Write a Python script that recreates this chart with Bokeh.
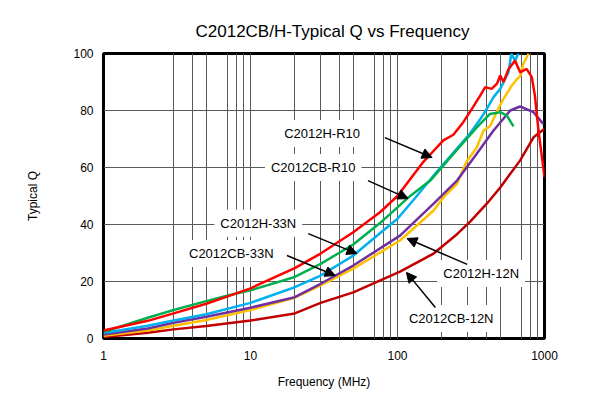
from bokeh.plotting import figure
from bokeh.models import Range1d, FixedTicker, Label, Arrow, NormalHead
from bokeh.embed import file_html
from bokeh.resources import INLINE

# ---- data (frequency in MHz, Q) ----
f_h_r10 = [1, 2, 3, 5, 7, 10, 20, 30, 50, 76, 100, 150, 170, 205, 240, 281, 320, 366, 395, 437, 475, 500, 526, 570, 630, 683, 755, 820, 860, 910, 1000]
q_h_r10 = [2.8, 6.2, 8.8, 12.2, 14.8, 17.6, 24.7, 29.8, 37.3, 44.3, 50, 62, 65, 69.5, 71.5, 76, 80.5, 85.3, 88.2, 87.6, 89.4, 92.3, 90, 94.6, 97.5, 93.4, 94.6, 91.7, 85.3, 73, 56.6]

f_cb_r10 = [1, 2, 3, 5, 7, 10, 20, 30, 50, 76, 100, 119, 167, 240, 346, 426, 500, 555, 615]
q_cb_r10 = [2.3, 7.3, 10, 13.1, 15.1, 16.9, 21.6, 26.2, 33, 40.5, 46, 49.6, 55.4, 64.8, 74.1, 78.8, 79.4, 78.2, 74.4]

f_h_33n = [1, 2, 3, 5, 10, 20, 30, 50, 80, 100, 128, 185, 267, 312, 366, 405, 450, 500, 569, 595, 630, 665]
q_h_33n = [1.9, 4.5, 6.3, 8.5, 12.5, 18, 22.1, 29.1, 37.9, 42, 48.5, 58.5, 68, 72, 77, 80.6, 84.7, 87.6, 93.4, 100, 97.5, 100]

f_h_12n = [1, 2, 3, 5, 10, 20, 30, 50, 104, 176, 254, 346, 450, 585, 683, 842, 980]
q_h_12n = [1.4, 3.5, 5.5, 7.6, 10.8, 14.5, 19.2, 25.6, 36.1, 47.3, 55.4, 64.8, 73, 80, 81.4, 79.4, 75.3]

f_cb_33n = [1, 2, 3, 5, 10, 20, 30, 50, 104, 176, 206, 254, 295, 346, 385, 426, 500, 525, 595, 648, 683, 718, 779]
q_cb_33n = [1.0, 2.8, 4.5, 6.5, 10, 14.3, 18.6, 24.5, 34.4, 44.9, 49.6, 54.3, 62, 67, 73, 74.5, 82, 84, 88.5, 91, 92, 96.4, 100]

f_cb_12n = [1, 2, 3, 5, 10, 20, 30, 50, 70, 104, 176, 254, 312, 405, 500, 683, 842, 1000]
q_cb_12n = [0.5, 2.0, 3.2, 4.4, 6.3, 8.8, 12.5, 16.2, 19.5, 23.5, 29.8, 36.6, 41, 47.3, 53, 62.5, 70.6, 73.6]

series = [
    (f_cb_12n, q_cb_12n, "#C00000"),
    (f_cb_33n, q_cb_33n, "#FFC000"),
    (f_h_12n, q_h_12n, "#7030A0"),
    (f_h_33n, q_h_33n, "#00B0F0"),
    (f_cb_r10, q_cb_r10, "#00B050"),
    (f_h_r10, q_h_r10, "#FF0000"),
]

x_ticks = [1, 10, 100, 1000]
x_grid = [3, 4, 5, 7, 8, 9, 10, 20, 30, 40, 50, 70, 80, 90, 100, 200, 300, 400, 500, 700, 800, 900]
y_ticks = [0, 20, 40, 60, 80, 100]

# annotations: (text, text_f, text_q, arrow_f0, arrow_q0, arrow_f1, arrow_q1)
notes = [
    ("C2012H-R10", 30.7, 71.9, 82, 70.5, 172, 63.5),
    ("C2012CB-R10", 26.7, 60.0, 63, 55.4, 118, 49.1),
    ("C2012H-33N", 11.3, 40.4, 24.7, 36.8, 53, 29.8),
    ("C2012CB-33N", 7.4, 29.8, 17.7, 29.1, 37.7, 22.1),
    ("C2012H-12N", 371, 22.8, 298, 26.0, 116, 35.1),
    ("C2012CB-12N", 232, 7.0, 181, 10.9, 115, 23.2),
]

FONT = "Liberation Sans"

p = figure(width=581, height=391, x_axis_type="log",
           x_range=Range1d(1, 1000), y_range=Range1d(0, 100),
           output_backend="svg", toolbar_location=None,
           min_border_left=103, min_border_right=37,
           min_border_top=53, min_border_bottom=53,
           title="C2012CB/H-Typical Q vs Frequency")

p.title.text_font = FONT
p.title.text_font_size = "17px"
p.title.text_font_style = "normal"
p.title.align = "left"
p.title.offset = 92
p.title.standoff = 26
p.title.text_color = "black"

p.outline_line_color = "black"
p.outline_line_width = 3
p.outline_line_alpha = 1

for ax in (p.xaxis[0], p.yaxis[0]):
    ax.axis_line_color = None
    ax.major_tick_line_color = None
    ax.minor_tick_line_color = None
    ax.major_label_text_font = FONT
    ax.major_label_text_font_size = "12px"
    ax.major_label_text_color = "black"
    ax.axis_label_text_font = FONT
    ax.axis_label_text_font_size = "12px"
    ax.axis_label_text_font_style = "normal"
    ax.axis_label_text_color = "black"

p.xaxis.ticker = FixedTicker(ticks=x_ticks)
p.xaxis.major_label_overrides = {1: "1", 10: "10", 100: "100", 1000: "1000"}
p.xaxis.major_label_standoff = 6
p.xaxis.axis_label = "Frequency (MHz)"
p.xaxis.axis_label_standoff = 12

p.yaxis.ticker = FixedTicker(ticks=y_ticks)
p.yaxis.major_label_standoff = 4
p.yaxis.axis_label = "Typical Q"
p.yaxis.axis_label_standoff = 30

p.xgrid.ticker = FixedTicker(ticks=x_grid)
p.ygrid.ticker = FixedTicker(ticks=[20, 40, 60, 80])
for g in (p.xgrid[0], p.ygrid[0]):
    g.grid_line_color = "#595959"
    g.grid_line_width = 1
    g.grid_line_alpha = 1

for fx, qy, col in series:
    p.line(fx, qy, line_color=col, line_width=2.5)

for txt, tf, tq, f0, q0, f1, q1 in notes:
    p.add_layout(Label(x=tf, y=tq, text=txt, text_font=FONT, text_font_size="13px",
                       text_align="center", text_baseline="middle", text_color="black",
                       background_fill_color="white", background_fill_alpha=1,
                       padding=6))
    p.add_layout(Arrow(x_start=f0, y_start=q0, x_end=f1, y_end=q1,
                       line_color="black", line_width=1.5,
                       end=NormalHead(size=10, fill_color="black", line_color="black")))

open("out.html", "w").write(file_html(p, INLINE))
